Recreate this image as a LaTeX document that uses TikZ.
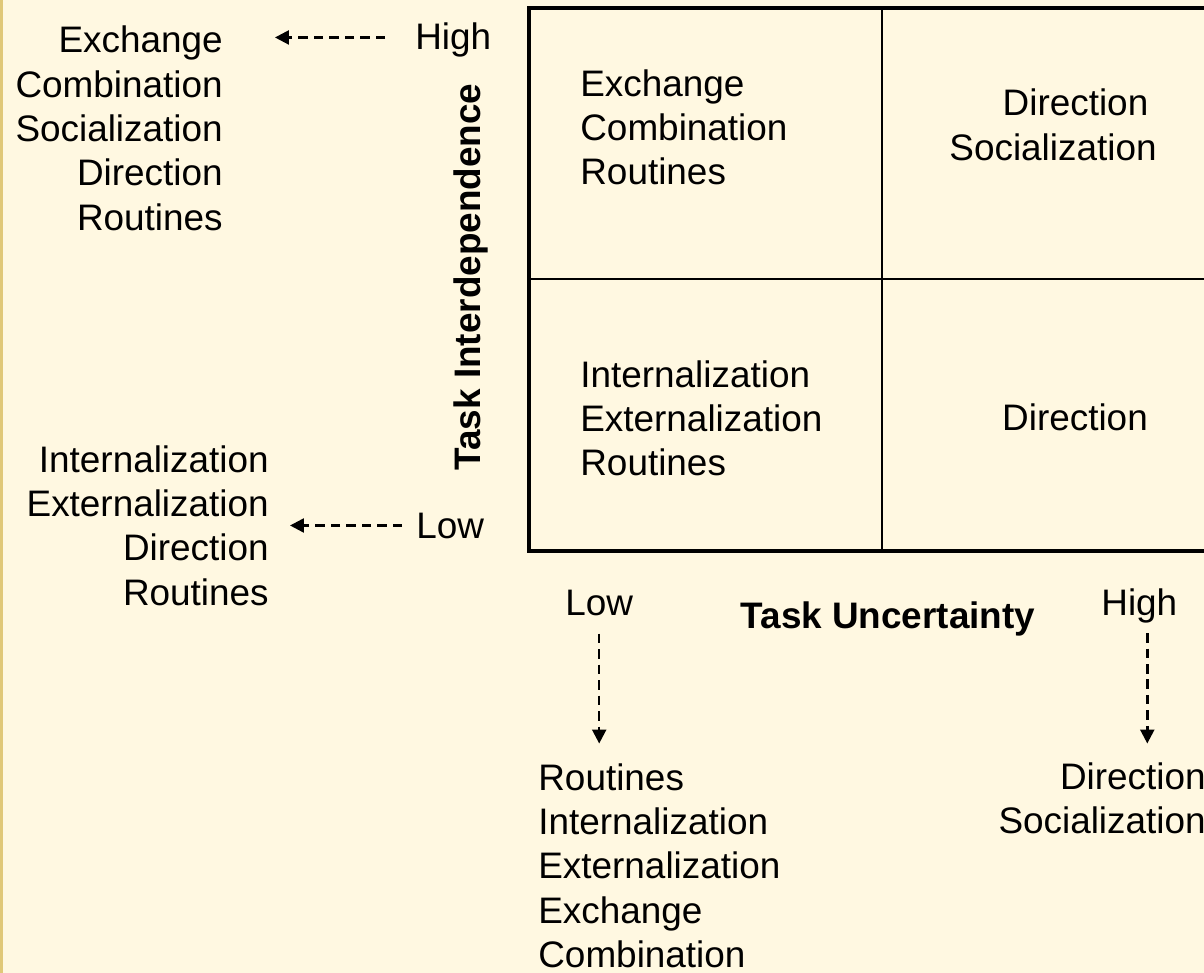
\documentclass[tikz,border=0pt]{standalone}
\usepackage{fontspec}
\setmainfont{Liberation Sans}
\usetikzlibrary{arrows.meta}
\definecolor{paper}{RGB}{255,248,225}
\definecolor{edge}{RGB}{224,200,120}

\begin{document}
\begin{tikzpicture}[x=0.02cm, y=-0.02cm,
    txt/.style={inner sep=0pt, font=\fontsize{21}{25.3}\selectfont},
    dasharrow/.style={line width=1.4pt, dash pattern=on 0.19cm off 0.12cm,
        -{Triangle[length=0.28cm,width=0.28cm]}}]
        % Background
        \fill[paper] (0,0) rectangle (1204,973);
        \useasboundingbox (0,0) rectangle (1204,973);
        \fill[edge] (0,0) rectangle (3,973);

        % Grid
        \draw[line width=2.2pt] (1215,8) -- (529,8) -- (529,551) -- (1215,551);
        \draw[line width=1.1pt] (529,279) -- (1215,279);
        \draw[line width=1.1pt] (882,8) -- (882,551);

        % Cells
        \node[txt, anchor=north west, align=left] (TL) at (580,69) {Exchange\\Combination\\Routines};
        \node[txt, anchor=north, align=center] (TR) at (1053,88.5) {\hspace*{0.9cm}Direction\\Socialization};
        \node[txt, anchor=north west, align=left] (BL) at (580,360) {Internalization\\Externalization\\Routines};
        \node[txt, anchor=base] (BR) at (1075,430) {Direction};

        % Task interdependence axis
        \node[txt, font=\fontsize{21}{25.3}\selectfont\bfseries, rotate=90, anchor=base] (AxY) at (480,277) {Task Interdependence};
        \node[txt, anchor=base west] (Hi) at (415,50) {High};
        \node[txt, anchor=base west] (Lo) at (416,538) {Low};
        \node[txt, anchor=north east, align=right] (L1) at (223,25.5) {Exchange\\Combination\\Socialization\\Direction\\Routines};
        \node[txt, anchor=north east, align=right] (L2) at (269,445) {Internalization\\Externalization\\Direction\\Routines};

        % Task uncertainty axis
        \node[txt, font=\fontsize{21}{25.3}\selectfont\bfseries, anchor=base] (AxX) at (888,628) {Task Uncertainty};
        \node[txt, anchor=base west] (LoX) at (565,615) {Low};
        \node[txt, anchor=base west] (HiX) at (1101,615) {High};
        \node[txt, anchor=north west, align=left] (B1) at (538,763) {Routines\\Internalization\\Externalization\\Exchange\\Combination};
        \node[txt, anchor=north east, align=right] (B2) at (1206,762) {Direction\\Socialization};

        % Dashed arrows
        \draw[dasharrow, shorten <=0.6cm, shorten >=1.04cm] ([yshift=0.06cm]Hi.west) -- ([yshift=0.06cm]Hi.west -| L1.east);
        \draw[dasharrow, shorten <=0.28cm, shorten >=0.42cm] (Lo.west) -- (Lo.west -| L2.east);
        \draw[dasharrow, shorten <=0.36cm, shorten >=0.39cm] (LoX.south) -- (LoX.south |- B1.north);
        \draw[dasharrow, shorten <=0.2cm, shorten >=0.37cm] ([xshift=0.16cm]HiX.south) -- ([xshift=0.16cm]HiX.south |- B2.north);
    \end{tikzpicture}
\end{document}
